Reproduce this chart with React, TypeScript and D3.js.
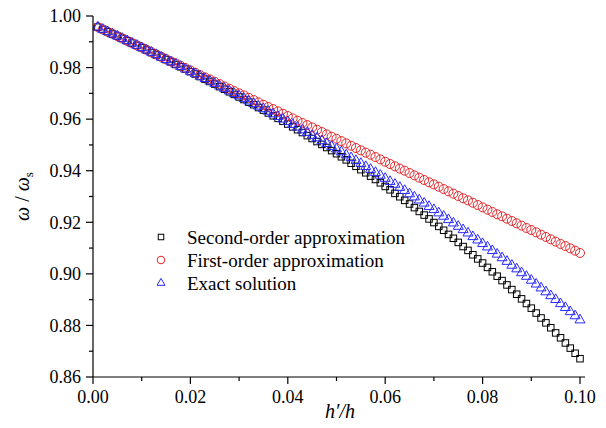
import React from "react";
import * as d3 from "d3";

// Relative thickness h'/h, sampled every 0.001
const ratio: number[] = d3.range(1, 101).map((i) => i / 1000);

// ω/ωs, second-order approximation
const secondOrder: number[] = [
  0.9957, 0.9948, 0.9939, 0.9930, 0.9922, 0.9913, 0.9904, 0.9895, 0.9886, 0.9877,
  0.9868, 0.9858, 0.9849, 0.9840, 0.9831, 0.9822, 0.9812, 0.9803, 0.9794, 0.9784,
  0.9775, 0.9765, 0.9755, 0.9746, 0.9736, 0.9726, 0.9716, 0.9706, 0.9696, 0.9686,
  0.9676, 0.9666, 0.9656, 0.9645, 0.9635, 0.9624, 0.9613, 0.9603, 0.9592, 0.9581,
  0.9570, 0.9559, 0.9548, 0.9536, 0.9525, 0.9513, 0.9502, 0.9490, 0.9478, 0.9466,
  0.9454, 0.9442, 0.9429, 0.9417, 0.9404, 0.9392, 0.9379, 0.9366, 0.9353, 0.9339,
  0.9326, 0.9312, 0.9299, 0.9285, 0.9271, 0.9257, 0.9242, 0.9228, 0.9213, 0.9199,
  0.9184, 0.9169, 0.9153, 0.9138, 0.9122, 0.9106, 0.9091, 0.9074, 0.9058, 0.9042,
  0.9025, 0.9008, 0.8991, 0.8974, 0.8957, 0.8939, 0.8921, 0.8903, 0.8885, 0.8867,
  0.8848, 0.8829, 0.8810, 0.8791, 0.8771, 0.8752, 0.8732, 0.8712, 0.8692, 0.8671,
];

// ω/ωs, first-order approximation
const firstOrder: number[] = [
  0.9957, 0.9948, 0.9939, 0.9931, 0.9922, 0.9913, 0.9904, 0.9895, 0.9886, 0.9878,
  0.9869, 0.9860, 0.9851, 0.9842, 0.9833, 0.9824, 0.9816, 0.9807, 0.9798, 0.9789,
  0.9780, 0.9771, 0.9762, 0.9754, 0.9745, 0.9736, 0.9727, 0.9718, 0.9709, 0.9700,
  0.9692, 0.9683, 0.9674, 0.9665, 0.9656, 0.9647, 0.9639, 0.9630, 0.9621, 0.9612,
  0.9603, 0.9594, 0.9585, 0.9577, 0.9568, 0.9559, 0.9550, 0.9541, 0.9532, 0.9524,
  0.9515, 0.9506, 0.9497, 0.9488, 0.9479, 0.9470, 0.9462, 0.9453, 0.9444, 0.9435,
  0.9426, 0.9417, 0.9408, 0.9400, 0.9391, 0.9382, 0.9373, 0.9364, 0.9355, 0.9347,
  0.9338, 0.9329, 0.9320, 0.9311, 0.9302, 0.9293, 0.9285, 0.9276, 0.9267, 0.9258,
  0.9249, 0.9240, 0.9231, 0.9223, 0.9214, 0.9205, 0.9196, 0.9187, 0.9178, 0.9170,
  0.9161, 0.9152, 0.9143, 0.9134, 0.9125, 0.9116, 0.9108, 0.9099, 0.9090, 0.9081,
];

// ω/ωs, exact solution
const exact: number[] = [
  0.9957, 0.9948, 0.9939, 0.9930, 0.9922, 0.9913, 0.9904, 0.9895, 0.9886, 0.9877,
  0.9868, 0.9859, 0.9850, 0.9840, 0.9831, 0.9822, 0.9813, 0.9804, 0.9794, 0.9785,
  0.9776, 0.9766, 0.9757, 0.9747, 0.9738, 0.9728, 0.9719, 0.9709, 0.9699, 0.9690,
  0.9680, 0.9670, 0.9660, 0.9650, 0.9640, 0.9630, 0.9620, 0.9610, 0.9600, 0.9590,
  0.9579, 0.9569, 0.9558, 0.9548, 0.9537, 0.9527, 0.9516, 0.9505, 0.9494, 0.9484,
  0.9473, 0.9461, 0.9450, 0.9439, 0.9428, 0.9416, 0.9405, 0.9393, 0.9382, 0.9370,
  0.9358, 0.9347, 0.9335, 0.9323, 0.9310, 0.9298, 0.9286, 0.9274, 0.9261, 0.9249,
  0.9236, 0.9223, 0.9210, 0.9197, 0.9184, 0.9171, 0.9158, 0.9144, 0.9131, 0.9117,
  0.9104, 0.9090, 0.9076, 0.9062, 0.9048, 0.9033, 0.9019, 0.9004, 0.8990, 0.8975,
  0.8960, 0.8945, 0.8930, 0.8915, 0.8900, 0.8884, 0.8869, 0.8853, 0.8837, 0.8821,
];

const xTicks: number[] = [0, 0.02, 0.04, 0.06, 0.08, 0.1];
const xMinor: number[] = [0.01, 0.03, 0.05, 0.07, 0.09];
const yTicks: number[] = [0.86, 0.88, 0.9, 0.92, 0.94, 0.96, 0.98, 1.0];
const yMinor: number[] = [0.87, 0.89, 0.91, 0.93, 0.95, 0.97, 0.99];

const seriesNames: string[] = [
  "Second-order approximation",
  "First-order approximation",
  "Exact solution",
];

const W = 606;
const H = 428;
const FONT = '"Liberation Serif", "Times New Roman", Tinos, "DejaVu Serif", serif';
const BLACK = "#000000";
const RED = "#e3262b";
const BLUE = "#2a2aff";

const x = d3.scaleLinear().domain([0, 0.1]).range([93, 580]);
const y = d3.scaleLinear().domain([0.86, 1.0]).range([377, 16]);

const fmt = d3.format(".2f");

function Square({ cx, cy, s, color }: { cx: number; cy: number; s: number; color: string }) {
  return (
    <rect x={cx - s / 2} y={cy - s / 2} width={s} height={s} fill="none" stroke={color} strokeWidth={1} />
  );
}

function Circle({ cx, cy, r, color }: { cx: number; cy: number; r: number; color: string }) {
  return <circle cx={cx} cy={cy} r={r} fill="none" stroke={color} strokeWidth={1} />;
}

function Triangle({ cx, cy, s, color }: { cx: number; cy: number; s: number; color: string }) {
  const h = (s * Math.sqrt(3)) / 2;
  const d = `M${cx},${cy - (2 * h) / 3}L${cx + s / 2},${cy + h / 3}L${cx - s / 2},${cy + h / 3}Z`;
  return <path d={d} fill="none" stroke={color} strokeWidth={1} strokeLinejoin="miter" />;
}

export default function App() {
  const x0 = x(0);
  const yBase = y(0.86);
  const legendX = 161;
  const legendRows = [237, 260, 283];

  return (
    <div style={{ position: "fixed", left: 0, top: 0 }}>
      <svg width={W} height={H} style={{ display: "block", background: "#fff", fontFamily: FONT }}>
        {/* second-order approximation */}
        <g>
          {ratio.map((r, i) => (
            <Square key={i} cx={x(r)} cy={y(secondOrder[i])} s={6.5} color={BLACK} />
          ))}
        </g>
        {/* first-order approximation */}
        <g>
          {ratio.map((r, i) => (
            <Circle key={i} cx={x(r)} cy={y(firstOrder[i])} r={4.5} color={RED} />
          ))}
        </g>
        {/* exact solution */}
        <g>
          {ratio.map((r, i) => (
            <Triangle key={i} cx={x(r)} cy={y(exact[i])} s={10} color={BLUE} />
          ))}
        </g>

        {/* axes */}
        <g stroke={BLACK} strokeWidth={1.2} fill="none">
          <line x1={x0} x2={x0} y1={y(1.0)} y2={yBase} />
          <line x1={x0} x2={585} y1={yBase} y2={yBase} />
          {yTicks.map((t) => (
            <line key={"ym" + t} x1={x0 - 7} x2={x0} y1={y(t)} y2={y(t)} />
          ))}
          {yMinor.map((t) => (
            <line key={"yn" + t} x1={x0 - 4} x2={x0} y1={y(t)} y2={y(t)} />
          ))}
          {xTicks.map((t) => (
            <line key={"xm" + t} x1={x(t)} x2={x(t)} y1={yBase} y2={yBase + 7} />
          ))}
          {xMinor.map((t) => (
            <line key={"xn" + t} x1={x(t)} x2={x(t)} y1={yBase} y2={yBase + 4} />
          ))}
        </g>

        <g fontSize={18} fill={BLACK}>
          {yTicks.map((t) => (
            <text key={"yl" + t} x={x0 - 12} y={y(t)} dy="0.35em" textAnchor="end">
              {fmt(t)}
            </text>
          ))}
          {xTicks.map((t) => (
            <text key={"xl" + t} x={x(t)} y={yBase + 26} textAnchor="middle">
              {fmt(t)}
            </text>
          ))}
        </g>

        {/* axis titles */}
        <text x={340} y={418} fontSize={20} textAnchor="middle" fontStyle="italic">
          h′/h
        </text>
        <text transform={`translate(29, ${(y(1.0) + yBase) / 2}) rotate(-90)`} fontSize={20} textAnchor="middle">
          <tspan fontStyle="italic">ω</tspan>
          <tspan> / </tspan>
          <tspan fontStyle="italic">ω</tspan>
          <tspan fontSize={13} dy={4}>s</tspan>
        </text>

        {/* legend */}
        <g>
          <Square cx={legendX} cy={legendRows[0]} s={5.5} color={BLACK} />
          <Circle cx={legendX} cy={legendRows[1]} r={3.8} color={RED} />
          <Triangle cx={legendX} cy={legendRows[2]} s={8} color={BLUE} />
          {seriesNames.map((n, i) => (
            <text key={n} x={187} y={legendRows[i]} dy="0.35em" fontSize={19}>
              {n}
            </text>
          ))}
        </g>
      </svg>
    </div>
  );
}
